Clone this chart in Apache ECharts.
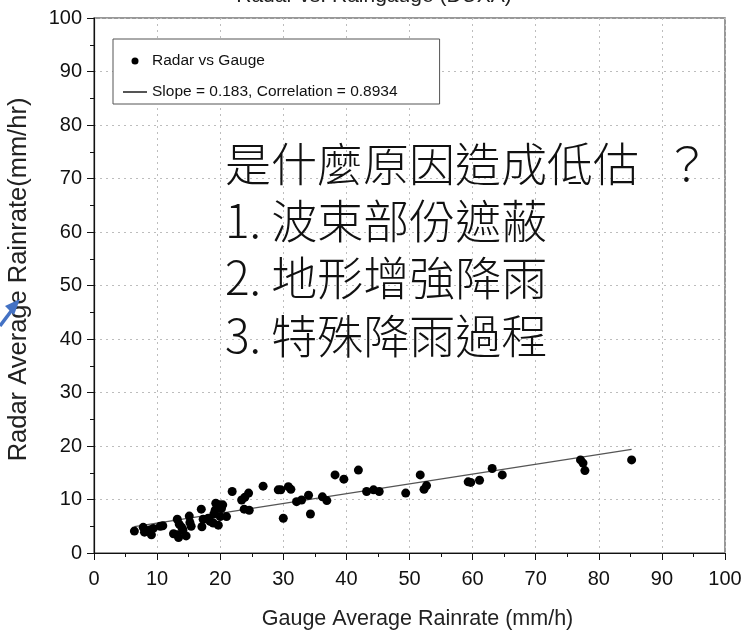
<!DOCTYPE html>
<html><head><meta charset="utf-8">
<script src="https://cdn.jsdelivr.net/npm/echarts@6/dist/echarts.min.js"></script>
<style>html,body{margin:0;padding:0;background:#fff}#c{width:748px;height:633px}</style>
</head><body><div id="c"></div>
<script>
// Gauge average rainrate (mm/h) for each point
const gaugeX = [6.4,7.8,8.0,8.8,9.1,9.4,10.5,10.9,12.6,13.2,13.4,14.6,13.2,13.5,13.9,14.1,15.1,15.2,15.4,17.0,17.1,17.3,18.1,18.4,18.9,19.0,19.2,19.3,19.7,20.0,20.2,20.4,19.9,21.0,21.9,23.4,23.8,23.9,24.5,24.6,26.8,29.2,29.6,30.0,30.8,31.2,32.1,32.9,34.0,34.3,36.2,36.9,38.2,39.6,41.9,43.2,44.3,45.2,49.4,51.7,52.3,52.7,59.3,59.7,61.1,63.1,64.7,77.1,77.5,77.8,85.2];
// Radar average rainrate (mm/hr) for each point
const radarY = [4.1,4.8,3.9,4.3,3.4,4.6,5.0,5.1,3.6,3.4,2.9,3.2,6.3,5.4,4.8,4.3,6.9,5.7,5.0,8.2,4.9,6.3,6.5,5.9,5.6,7.3,8.0,9.3,5.2,6.8,8.3,9.0,9.0,6.8,11.5,9.9,8.2,10.4,11.2,8.0,12.5,11.8,11.8,6.5,12.4,11.9,9.6,9.9,10.8,7.3,10.5,9.8,14.6,13.8,15.5,11.5,11.8,11.5,11.2,14.6,11.9,12.6,13.3,13.2,13.6,15.8,14.6,17.4,16.8,15.4,17.4];
// Fitted line end points (slope 0.183)
const fitX = [6.4, 85.2];
const fitY = [4.93, 19.35];
const seriesNames = ['Radar vs Gauge', 'Slope = 0.183, Correlation = 0.8934'];
const titleText = 'Radar vs. Raingauge (DUXA)';
const xName = 'Gauge Average Rainrate (mm/h)';
const yName = 'Radar Average Rainrate(mm/hr)';
const noteLines = ['是什麼原因造成低估', '1. 波束部份遮蔽', '2. 地形增強降雨', '3. 特殊降雨過程'];
const noteMark = '？';

const chart = echarts.init(document.getElementById('c'), null, {renderer: 'canvas'});
const F = 'Liberation Sans, Arial, Helvetica, sans-serif';
const CJK = '"Noto Sans CJK TC", "Noto Sans CJK SC", sans-serif';
const noteY = [164, 221, 278, 336];

const axisCommon = {
  min: 0, max: 100, interval: 10,
  axisLine: {show: true, onZero: false, lineStyle: {color: '#111', width: 1.2}},
  axisTick: {show: true, inside: false, length: 7, lineStyle: {color: '#111', width: 1}},
  minorTick: {show: true, splitNumber: 2, length: 4, lineStyle: {color: '#111', width: 1}},
  splitLine: {show: true, lineStyle: {color: '#bdbdbd', type: [2, 4], width: 1}},
  axisLabel: {color: '#111', fontFamily: F, fontSize: 20}
};

chart.setOption({
  backgroundColor: '#fff',
  animation: false,
  title: {
    text: titleText, left: 'center', top: -19,
    textStyle: {fontFamily: F, fontSize: 21, fontWeight: 'normal', color: '#222'}
  },
  grid: {left: 94, right: 23, top: 18, bottom: 80, containLabel: false, outerBoundsMode: 'none',
         show: true, borderColor: '#777', borderWidth: 1.5, backgroundColor: 'transparent'},
  legend: {
    orient: 'vertical', left: 113, top: 39,
    data: [{name: seriesNames[0], icon: 'circle'}, {name: seriesNames[1], itemStyle: {opacity: 0}}],
    itemWidth: 24, itemHeight: 7, itemGap: 13,
    padding: [13, 42, 3, 9],
    backgroundColor: '#fff', borderColor: '#555', borderWidth: 1,
    textStyle: {fontFamily: F, fontSize: 15.5, color: '#111', lineHeight: 18}
  },
  xAxis: Object.assign({}, axisCommon, {
    type: 'value', name: xName, nameLocation: 'middle', nameGap: 55,
    nameTextStyle: {fontFamily: F, fontSize: 21.5, color: '#222', padding: [0, 0, 0, 16]},
    axisLabel: Object.assign({}, axisCommon.axisLabel, {margin: 16})
  }),
  yAxis: Object.assign({}, axisCommon, {
    type: 'value', name: yName, nameLocation: 'middle', nameGap: 62,
    nameTextStyle: {fontFamily: F, fontSize: 25.5, color: '#222', padding: [0, 0, 0, 12]},
    axisLabel: Object.assign({}, axisCommon.axisLabel, {margin: 12})
  }),
  series: [
    {
      name: seriesNames[0], type: 'scatter', symbol: 'circle', symbolSize: 9,
      itemStyle: {color: '#000', opacity: 1},
      data: gaugeX.map((x, i) => [x, radarY[i]]), z: 3
    },
    {
      name: seriesNames[1], type: 'line', symbol: 'none', showSymbol: false,
      itemStyle: {color: '#555'},
      lineStyle: {color: '#555', width: 1.3},
      data: fitX.map((x, i) => [x, fitY[i]]), z: 2
    }
  ],
  graphic: [
    ...noteLines.map((t, i) => ({
      type: 'text', x: 225, y: noteY[i], z: 10,
      style: {text: t, fill: '#111', font: '300 46px ' + CJK, verticalAlign: 'middle', align: 'left'}
    })),
    {type: 'text', x: 664, y: noteY[0], z: 10,
     style: {text: noteMark, fill: '#111', font: '300 46px ' + CJK, verticalAlign: 'middle', align: 'left'}},
    {type: 'polyline', z: 10, shape: {points: [[0, 326], [15, 306]]}, style: {stroke: '#4472C4', lineWidth: 3.5, fill: null}},
    {type: 'polygon', z: 10, shape: {points: [[20, 299], [5, 306], [14, 315]]}, style: {fill: '#4472C4'}}
  ]
});
</script></body></html>
